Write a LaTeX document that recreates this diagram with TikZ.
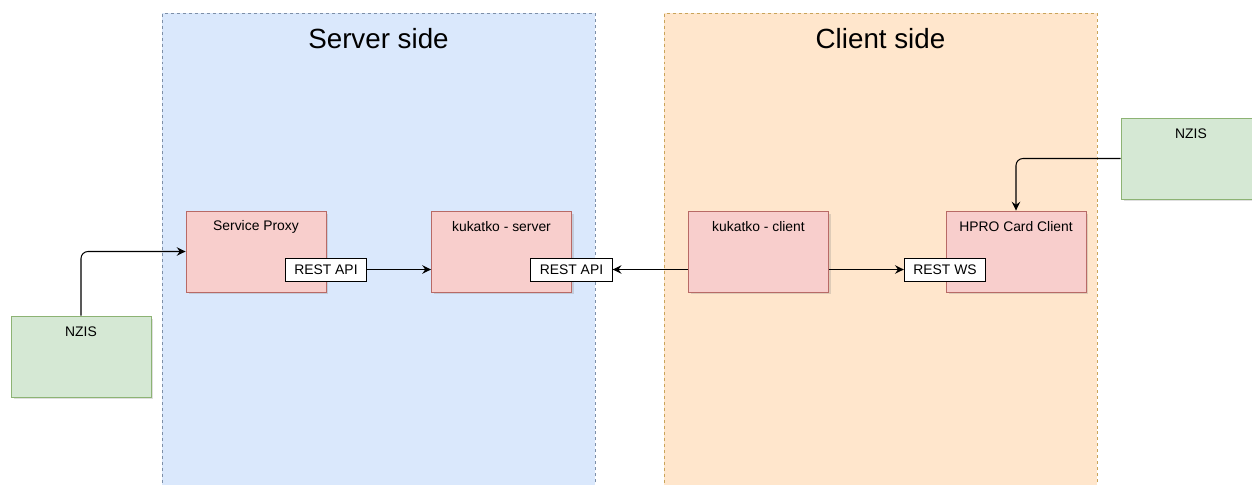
\documentclass[tikz,border=0pt]{standalone}
\usepackage{fontspec}
\setmainfont{Liberation Sans}
\usetikzlibrary{arrows.meta,shadows}

\definecolor{srvfill}{HTML}{DAE8FC}
\definecolor{srvline}{HTML}{7D8FA8}
\definecolor{clifill}{HTML}{FFE6CC}
\definecolor{cliline}{HTML}{C9A45A}
\definecolor{appfill}{HTML}{F8CECC}
\definecolor{appline}{HTML}{B86A66}
\definecolor{extfill}{HTML}{D5E8D4}
\definecolor{extline}{HTML}{8DB374}

\begin{document}
\begin{tikzpicture}[x=0.02cm,y=-0.02cm,
	side/.style={anchor=north,minimum width=8.66cm,minimum height=9.8cm,line width=0.5pt,dash pattern=on 1.7pt off 1.7pt},
	app/.style={draw=appline,fill=appfill,minimum width=2.8cm,minimum height=1.62cm,line width=0.5pt,
		drop shadow={shadow xshift=0.05cm,shadow yshift=-0.05cm,opacity=0.25}},
	ext/.style={draw=extline,fill=extfill,minimum width=2.8cm,minimum height=1.62cm,line width=0.5pt,
		drop shadow={shadow xshift=0.05cm,shadow yshift=-0.05cm,opacity=0.25}},
	api/.style={draw=black,fill=white,line width=0.5pt,minimum width=1.63cm,minimum height=0.46cm,inner sep=0pt,font=\fontsize{7.9}{9}\selectfont},
	title/.style={font=\fontsize{15.8}{18}\selectfont},
	small/.style={font=\fontsize{7.9}{9}\selectfont},
	flow/.style={line width=0.6pt,-{Stealth[length=5pt,width=4.8pt,inset=1.7pt]}}]

		\useasboundingbox (0,0) rectangle (1252,484);

		% the two sides
		\node[side,draw=srvline,fill=srvfill] (server) at (378.5,13) {};
		\node[side,draw=cliline,fill=clifill] (client) at (880.5,13) {};
		\node[title] (servertitle) at (378.5,39) {Server side};
		\node[title] (clienttitle) at (880.5,39) {Client side};

		% boxes
		\node[app] (proxy) at (256,251.5) {};
		\node[app] (kserver) at (501.5,251.5) {};
		\node[app] (kclient) at (758.5,251.5) {};
		\node[app] (hpro) at (1016,251.5) {};
		\node[ext] (nzisleft) at (81,356.5) {};
		\node[ext] (nzisright) at (1191,158.5) {};

		\node[small] (proxytext) at (256,227) {Service Proxy};
		\node[small] (kservertext) at (501.5,227) {kukatko - server};
		\node[small] (kclienttext) at (758.5,227) {kukatko - client};
		\node[small] (hprotext) at (1016,227) {HPRO Card Client};
		\node[small] (nzislefttext) at (81,332) {NZIS};
		\node[small] (nzisrighttext) at (1191,134) {NZIS};

		% interfaces
		\node[api] (restA) at (326,269.5) {REST API};
		\node[api] (restB) at (571.5,269.5) {REST API};
		\node[api] (restW) at (945,269.5) {REST WS};

		% connections
		\draw[flow,rounded corners=0.14cm] (nzisleft.north) |- (proxy.west);
		\draw[flow] (restA.east) -- (restA.east -| kserver.west);
		\draw[flow] (kclient.west |- restB.east) -- (restB.east);
		\draw[flow] (kclient.east |- restW.west) -- (restW.west);
		\draw[flow,rounded corners=0.14cm] (nzisright.west) -| (hpro.north);

\end{tikzpicture}
\end{document}
